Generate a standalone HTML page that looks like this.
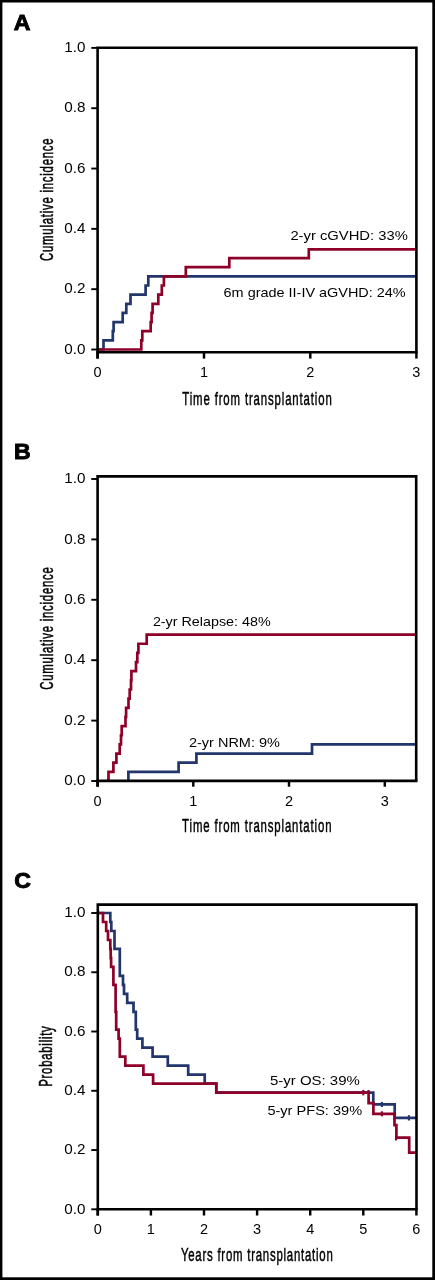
<!DOCTYPE html>
<html><head><meta charset="utf-8"><title>Figure</title>
<style>html,body{margin:0;padding:0;background:#fff;width:435px;height:1280px;overflow:hidden}</style>
</head><body>
<svg width="435" height="1280" viewBox="0 0 435 1280" style="display:block">
<rect x="0" y="0" width="435" height="1280" fill="#fff"/>
<g fill="#000">
<rect x="0" y="0" width="2.4" height="1280"/>
<rect x="0" y="0" width="435" height="2.5"/>
<rect x="432.3" y="0" width="2.7" height="1280"/>
<rect x="0" y="1277.3" width="435" height="2.7"/>
</g>
<text x="13.8" y="30.4" font-family="'Liberation Sans', Arial, Helvetica, sans-serif" font-weight="bold" font-size="21.6" stroke="#000" stroke-width="0.9" transform="translate(13.8 30.4) scale(1.07 1) translate(-13.8 -30.4)">A</text>
<path d="M97.6 349.5H103.5V340.4H112.8V331.2H113.6V322.1H122.7V312.9H126.3V303.8H130.5V294.7H145.6V285.5H148.3V276.4H416.4" fill="none" stroke="#22366b" stroke-width="2.7" stroke-linejoin="miter" stroke-linecap="butt"/>
<path d="M97.6 349.5H141.3V340.4H142.3V331.2H150.7V322.1H151.6V312.9H152.6V303.8H158.3V294.7H161.8V285.5H163.9V276.4H185.8V267.2H229.3V258.1H308.8V249.3H416.4" fill="none" stroke="#8e0028" stroke-width="2.7" stroke-linejoin="miter" stroke-linecap="butt"/>
<path d="M97.6 358.6V47.75H416.4V352.2" fill="none" stroke="#000" stroke-width="2.6" stroke-linecap="butt" stroke-linejoin="miter"/>
<line x1="96.35" y1="352.2" x2="417.65" y2="352.2" stroke="#000" stroke-width="2.6"/>
<line x1="91.3" y1="47.9" x2="97.6" y2="47.9" stroke="#000" stroke-width="1.9"/>
<text x="85.4" y="52.1" text-anchor="end" textLength="21.2" lengthAdjust="spacingAndGlyphs" font-family="'Liberation Sans', Arial, Helvetica, sans-serif" font-size="14.5">1.0</text>
<line x1="91.3" y1="108.22" x2="97.6" y2="108.22" stroke="#000" stroke-width="1.9"/>
<text x="85.4" y="112.42" text-anchor="end" textLength="21.2" lengthAdjust="spacingAndGlyphs" font-family="'Liberation Sans', Arial, Helvetica, sans-serif" font-size="14.5">0.8</text>
<line x1="91.3" y1="168.54" x2="97.6" y2="168.54" stroke="#000" stroke-width="1.9"/>
<text x="85.4" y="172.74" text-anchor="end" textLength="21.2" lengthAdjust="spacingAndGlyphs" font-family="'Liberation Sans', Arial, Helvetica, sans-serif" font-size="14.5">0.6</text>
<line x1="91.3" y1="228.86" x2="97.6" y2="228.86" stroke="#000" stroke-width="1.9"/>
<text x="85.4" y="233.06" text-anchor="end" textLength="21.2" lengthAdjust="spacingAndGlyphs" font-family="'Liberation Sans', Arial, Helvetica, sans-serif" font-size="14.5">0.4</text>
<line x1="91.3" y1="289.18" x2="97.6" y2="289.18" stroke="#000" stroke-width="1.9"/>
<text x="85.4" y="293.38" text-anchor="end" textLength="21.2" lengthAdjust="spacingAndGlyphs" font-family="'Liberation Sans', Arial, Helvetica, sans-serif" font-size="14.5">0.2</text>
<line x1="91.3" y1="349.5" x2="97.6" y2="349.5" stroke="#000" stroke-width="1.9"/>
<text x="85.4" y="353.7" text-anchor="end" textLength="21.2" lengthAdjust="spacingAndGlyphs" font-family="'Liberation Sans', Arial, Helvetica, sans-serif" font-size="14.5">0.0</text>
<line x1="97.6" y1="352.2" x2="97.6" y2="358.6" stroke="#000" stroke-width="2.45"/>
<text x="97.6" y="377.3" text-anchor="middle" font-family="'Liberation Sans', Arial, Helvetica, sans-serif" font-size="14.5">0</text>
<line x1="204" y1="352.2" x2="204" y2="358.6" stroke="#000" stroke-width="2.45"/>
<text x="204" y="377.3" text-anchor="middle" font-family="'Liberation Sans', Arial, Helvetica, sans-serif" font-size="14.5">1</text>
<line x1="310.3" y1="352.2" x2="310.3" y2="358.6" stroke="#000" stroke-width="2.45"/>
<text x="310.3" y="377.3" text-anchor="middle" font-family="'Liberation Sans', Arial, Helvetica, sans-serif" font-size="14.5">2</text>
<line x1="416.4" y1="352.2" x2="416.4" y2="358.6" stroke="#000" stroke-width="2.45"/>
<text x="416.4" y="377.3" text-anchor="middle" font-family="'Liberation Sans', Arial, Helvetica, sans-serif" font-size="14.5">3</text>
<text transform="translate(257 404.5) scale(0.6 1)" x="0" y="0" text-anchor="middle" textLength="249.17" lengthAdjust="spacing" font-family="'Liberation Sans', Arial, Helvetica, sans-serif" font-size="19" stroke="#000" stroke-width="0.5">Time from transplantation</text>
<text transform="translate(53.1 199.7) rotate(-90) scale(0.6 1)" x="0" y="0" text-anchor="middle" textLength="204.5" lengthAdjust="spacing" font-family="'Liberation Sans', Arial, Helvetica, sans-serif" font-size="19" stroke="#000" stroke-width="0.5">Cumulative incidence</text>
<text x="14" y="458.8" font-family="'Liberation Sans', Arial, Helvetica, sans-serif" font-weight="bold" font-size="21.6" stroke="#000" stroke-width="0.9" transform="translate(14 458.8) scale(1.07 1) translate(-14 -458.8)">B</text>
<path d="M128.4 781V771.85H178.6V762.7H196.4V753.55H312V744.4H416.2" fill="none" stroke="#22366b" stroke-width="2.7" stroke-linejoin="miter" stroke-linecap="butt"/>
<path d="M108.5 781V771.85H113.4V762.7H116.4V753.55H119.7V744.4H121V735.25H121.7V726.1H125.5V716.95H126.1V707.8H128.5V698.65H129.7V689.5H131V680.35H131.4V671.2H136V662.05H137.3V652.9H138.4V643.75H146.7V634.6H416.2" fill="none" stroke="#8e0028" stroke-width="2.7" stroke-linejoin="miter" stroke-linecap="butt"/>
<path d="M97.6 786.7V476.4H416.2V780.9" fill="none" stroke="#000" stroke-width="2.6" stroke-linecap="butt" stroke-linejoin="miter"/>
<line x1="96.35" y1="780.9" x2="417.45" y2="780.9" stroke="#000" stroke-width="2.6"/>
<line x1="91.3" y1="479" x2="97.6" y2="479" stroke="#000" stroke-width="1.9"/>
<text x="85.4" y="483.2" text-anchor="end" textLength="21.2" lengthAdjust="spacingAndGlyphs" font-family="'Liberation Sans', Arial, Helvetica, sans-serif" font-size="14.5">1.0</text>
<line x1="91.3" y1="539.4" x2="97.6" y2="539.4" stroke="#000" stroke-width="1.9"/>
<text x="85.4" y="543.6" text-anchor="end" textLength="21.2" lengthAdjust="spacingAndGlyphs" font-family="'Liberation Sans', Arial, Helvetica, sans-serif" font-size="14.5">0.8</text>
<line x1="91.3" y1="599.8" x2="97.6" y2="599.8" stroke="#000" stroke-width="1.9"/>
<text x="85.4" y="604" text-anchor="end" textLength="21.2" lengthAdjust="spacingAndGlyphs" font-family="'Liberation Sans', Arial, Helvetica, sans-serif" font-size="14.5">0.6</text>
<line x1="91.3" y1="660.2" x2="97.6" y2="660.2" stroke="#000" stroke-width="1.9"/>
<text x="85.4" y="664.4" text-anchor="end" textLength="21.2" lengthAdjust="spacingAndGlyphs" font-family="'Liberation Sans', Arial, Helvetica, sans-serif" font-size="14.5">0.4</text>
<line x1="91.3" y1="720.6" x2="97.6" y2="720.6" stroke="#000" stroke-width="1.9"/>
<text x="85.4" y="724.8" text-anchor="end" textLength="21.2" lengthAdjust="spacingAndGlyphs" font-family="'Liberation Sans', Arial, Helvetica, sans-serif" font-size="14.5">0.2</text>
<line x1="91.3" y1="781" x2="97.6" y2="781" stroke="#000" stroke-width="1.9"/>
<text x="85.4" y="785.2" text-anchor="end" textLength="21.2" lengthAdjust="spacingAndGlyphs" font-family="'Liberation Sans', Arial, Helvetica, sans-serif" font-size="14.5">0.0</text>
<line x1="97.6" y1="780.9" x2="97.6" y2="786.7" stroke="#000" stroke-width="2.45"/>
<text x="97.6" y="806.1" text-anchor="middle" font-family="'Liberation Sans', Arial, Helvetica, sans-serif" font-size="14.5">0</text>
<line x1="193.3" y1="780.9" x2="193.3" y2="786.7" stroke="#000" stroke-width="2.45"/>
<text x="193.3" y="806.1" text-anchor="middle" font-family="'Liberation Sans', Arial, Helvetica, sans-serif" font-size="14.5">1</text>
<line x1="289" y1="780.9" x2="289" y2="786.7" stroke="#000" stroke-width="2.45"/>
<text x="289" y="806.1" text-anchor="middle" font-family="'Liberation Sans', Arial, Helvetica, sans-serif" font-size="14.5">2</text>
<line x1="384.8" y1="780.9" x2="384.8" y2="786.7" stroke="#000" stroke-width="2.45"/>
<text x="384.8" y="806.1" text-anchor="middle" font-family="'Liberation Sans', Arial, Helvetica, sans-serif" font-size="14.5">3</text>
<text transform="translate(256.8 832.4) scale(0.6 1)" x="0" y="0" text-anchor="middle" textLength="249" lengthAdjust="spacing" font-family="'Liberation Sans', Arial, Helvetica, sans-serif" font-size="19" stroke="#000" stroke-width="0.5">Time from transplantation</text>
<text transform="translate(53.1 628.45) rotate(-90) scale(0.6 1)" x="0" y="0" text-anchor="middle" textLength="204.5" lengthAdjust="spacing" font-family="'Liberation Sans', Arial, Helvetica, sans-serif" font-size="19" stroke="#000" stroke-width="0.5">Cumulative incidence</text>
<text x="14.2" y="888" font-family="'Liberation Sans', Arial, Helvetica, sans-serif" font-weight="bold" font-size="21.6" stroke="#000" stroke-width="0.9" transform="translate(14.2 888) scale(1.07 1) translate(-14.2 -888)">C</text>
<path d="M97.8 913H110.3V922H111.3V931H114.5V948.9H119.8V975.9H123V984.8H124V993.8H127.2V1002.8H133.5V1011.8H135.8V1029.7H137.2V1038.7H142.4V1047.7H152.6V1056.7H167.8V1065.7H188.2V1074.6H204.7V1083.6H216.3V1092.6H373.3V1104.3H394.7V1117.9H416.5" fill="none" stroke="#22366b" stroke-width="2.7" stroke-linejoin="miter" stroke-linecap="butt"/>
<path d="M97.8 913H103V922H106.2V931H108V940H110.3V948.9H110.7V957.9H111.1V966.9H113.4V984.8H115.6V1011.8H116.2V1029.7H118.6V1038.7H119.8V1056.7H125.3V1065.7H143.4V1074.6H153.1V1083.6H216.3V1092.6H368.6V1103.2H373.4V1113.8H394.5V1125.2H396.4V1137.7H409.2V1152.6H416.5" fill="none" stroke="#8e0028" stroke-width="2.7" stroke-linejoin="miter" stroke-linecap="butt"/>
<line x1="363.3" y1="1089.9" x2="363.3" y2="1095.3" stroke="#8e0028" stroke-width="2.1"/>
<line x1="368.5" y1="1090" x2="368.5" y2="1093.5" stroke="#8e0028" stroke-width="2.1"/>
<line x1="381.9" y1="1101.9" x2="381.9" y2="1107" stroke="#22366b" stroke-width="2.1"/>
<line x1="381.9" y1="1111.3" x2="381.9" y2="1116.3" stroke="#8e0028" stroke-width="2.1"/>
<line x1="396" y1="1135.3" x2="396" y2="1140.5" stroke="#8e0028" stroke-width="2.1"/>
<line x1="408.9" y1="1115.2" x2="408.9" y2="1120.5" stroke="#22366b" stroke-width="2.1"/>
<path d="M97.8 1215.5V904.6H416.5V1209.3" fill="none" stroke="#000" stroke-width="2.6" stroke-linecap="butt" stroke-linejoin="miter"/>
<line x1="96.55" y1="1209.3" x2="417.75" y2="1209.3" stroke="#000" stroke-width="2.6"/>
<line x1="91.3" y1="913" x2="97.8" y2="913" stroke="#000" stroke-width="1.9"/>
<text x="85.4" y="917.2" text-anchor="end" textLength="21.2" lengthAdjust="spacingAndGlyphs" font-family="'Liberation Sans', Arial, Helvetica, sans-serif" font-size="14.5">1.0</text>
<line x1="91.3" y1="972.26" x2="97.8" y2="972.26" stroke="#000" stroke-width="1.9"/>
<text x="85.4" y="976.46" text-anchor="end" textLength="21.2" lengthAdjust="spacingAndGlyphs" font-family="'Liberation Sans', Arial, Helvetica, sans-serif" font-size="14.5">0.8</text>
<line x1="91.3" y1="1031.52" x2="97.8" y2="1031.52" stroke="#000" stroke-width="1.9"/>
<text x="85.4" y="1035.72" text-anchor="end" textLength="21.2" lengthAdjust="spacingAndGlyphs" font-family="'Liberation Sans', Arial, Helvetica, sans-serif" font-size="14.5">0.6</text>
<line x1="91.3" y1="1090.78" x2="97.8" y2="1090.78" stroke="#000" stroke-width="1.9"/>
<text x="85.4" y="1094.98" text-anchor="end" textLength="21.2" lengthAdjust="spacingAndGlyphs" font-family="'Liberation Sans', Arial, Helvetica, sans-serif" font-size="14.5">0.4</text>
<line x1="91.3" y1="1150.04" x2="97.8" y2="1150.04" stroke="#000" stroke-width="1.9"/>
<text x="85.4" y="1154.24" text-anchor="end" textLength="21.2" lengthAdjust="spacingAndGlyphs" font-family="'Liberation Sans', Arial, Helvetica, sans-serif" font-size="14.5">0.2</text>
<line x1="91.3" y1="1209.3" x2="97.8" y2="1209.3" stroke="#000" stroke-width="1.9"/>
<text x="85.4" y="1213.5" text-anchor="end" textLength="21.2" lengthAdjust="spacingAndGlyphs" font-family="'Liberation Sans', Arial, Helvetica, sans-serif" font-size="14.5">0.0</text>
<line x1="97.8" y1="1209.3" x2="97.8" y2="1215.5" stroke="#000" stroke-width="2.45"/>
<text x="97.8" y="1234.1" text-anchor="middle" font-family="'Liberation Sans', Arial, Helvetica, sans-serif" font-size="14.5">0</text>
<line x1="150.9" y1="1209.3" x2="150.9" y2="1215.5" stroke="#000" stroke-width="2.45"/>
<text x="150.9" y="1234.1" text-anchor="middle" font-family="'Liberation Sans', Arial, Helvetica, sans-serif" font-size="14.5">1</text>
<line x1="204" y1="1209.3" x2="204" y2="1215.5" stroke="#000" stroke-width="2.45"/>
<text x="204" y="1234.1" text-anchor="middle" font-family="'Liberation Sans', Arial, Helvetica, sans-serif" font-size="14.5">2</text>
<line x1="257.1" y1="1209.3" x2="257.1" y2="1215.5" stroke="#000" stroke-width="2.45"/>
<text x="257.1" y="1234.1" text-anchor="middle" font-family="'Liberation Sans', Arial, Helvetica, sans-serif" font-size="14.5">3</text>
<line x1="310.2" y1="1209.3" x2="310.2" y2="1215.5" stroke="#000" stroke-width="2.45"/>
<text x="310.2" y="1234.1" text-anchor="middle" font-family="'Liberation Sans', Arial, Helvetica, sans-serif" font-size="14.5">4</text>
<line x1="363.3" y1="1209.3" x2="363.3" y2="1215.5" stroke="#000" stroke-width="2.45"/>
<text x="363.3" y="1234.1" text-anchor="middle" font-family="'Liberation Sans', Arial, Helvetica, sans-serif" font-size="14.5">5</text>
<line x1="416.4" y1="1209.3" x2="416.4" y2="1215.5" stroke="#000" stroke-width="2.45"/>
<text x="416.4" y="1234.1" text-anchor="middle" font-family="'Liberation Sans', Arial, Helvetica, sans-serif" font-size="14.5">6</text>
<text transform="translate(256.85 1261.2) scale(0.6 1)" x="0" y="0" text-anchor="middle" textLength="253.17" lengthAdjust="spacing" font-family="'Liberation Sans', Arial, Helvetica, sans-serif" font-size="19" stroke="#000" stroke-width="0.5">Years from transplantation</text>
<text transform="translate(52.2 1056.5) rotate(-90) scale(0.6 1)" x="0" y="0" text-anchor="middle" textLength="100.83" lengthAdjust="spacing" font-family="'Liberation Sans', Arial, Helvetica, sans-serif" font-size="19" stroke="#000" stroke-width="0.5">Probability</text>
<text x="290.4" y="239.9" textLength="117.4" lengthAdjust="spacingAndGlyphs" font-family="'Liberation Sans', Arial, Helvetica, sans-serif" font-size="13.5">2-yr cGVHD: 33%</text>
<text x="223.6" y="297.2" textLength="182.1" lengthAdjust="spacingAndGlyphs" font-family="'Liberation Sans', Arial, Helvetica, sans-serif" font-size="13.5">6m grade II-IV aGVHD: 24%</text>
<text x="152.9" y="625.7" textLength="117.8" lengthAdjust="spacingAndGlyphs" font-family="'Liberation Sans', Arial, Helvetica, sans-serif" font-size="13.5">2-yr Relapse: 48%</text>
<text x="189" y="747.3" textLength="90.9" lengthAdjust="spacingAndGlyphs" font-family="'Liberation Sans', Arial, Helvetica, sans-serif" font-size="13.5">2-yr NRM: 9%</text>
<text x="269.9" y="1084.9" textLength="90" lengthAdjust="spacingAndGlyphs" font-family="'Liberation Sans', Arial, Helvetica, sans-serif" font-size="13.5">5-yr OS: 39%</text>
<text x="267.4" y="1114.7" textLength="94.7" lengthAdjust="spacingAndGlyphs" font-family="'Liberation Sans', Arial, Helvetica, sans-serif" font-size="13.5">5-yr PFS: 39%</text>
</svg>
</body></html>
